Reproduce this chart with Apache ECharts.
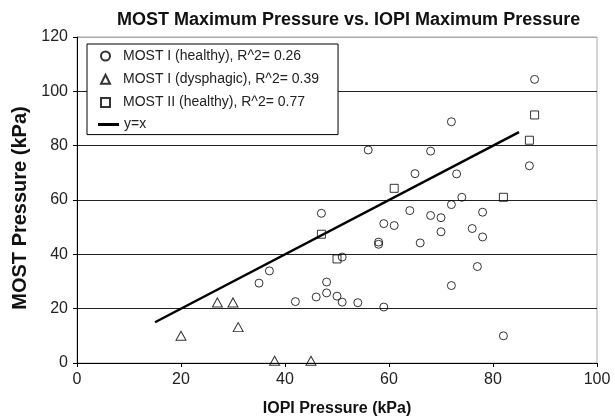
<!DOCTYPE html>
<html lang="en">

<head>
    <meta charset="UTF-8">
    <title>MOST vs IOPI</title>
    <script src="https://cdn.jsdelivr.net/npm/echarts@6/dist/echarts.min.js"></script>
    <style>
        body {
            margin: 0;
            padding: 0;
            background: #fff;
        }

        #main {
            width: 615px;
            height: 417px;
        }
    </style>
</head>

<body>
    <div id="main"></div>

    <script>
        // data, [IOPI kPa, MOST kPa]
        var healthyI = [
            [35, 29.4], [37, 33.9], [42, 22.6], [46, 24.3], [47, 55.1], [48, 29.8],
            [48, 25.8], [50, 24.6], [51, 39.0], [51, 22.4], [54, 22.2], [56, 78.4],
            [58, 44.5], [58, 43.7], [59, 51.3], [59, 20.6], [61, 50.6], [64, 56.1],
            [65, 69.7], [66, 44.2], [68, 78.0], [68, 54.3], [70, 53.5], [70, 48.3],
            [72, 88.8], [72, 58.3], [72, 28.5], [73, 69.6], [74, 61.0], [76, 49.5],
            [77, 35.5], [78, 55.5], [78, 46.4], [82, 10.0], [87, 72.6], [88, 104.4]
        ];
        var dysphagicI = [
            [20, 10.0], [27, 22.3], [30, 22.3], [31, 13.2], [38, 0.8], [45, 0.8]
        ];
        var healthyII = [
            [47, 47.4], [50, 38.3], [61, 64.3], [82, 61.0], [87, 82.0], [88, 91.3]
        ];
        var identityLine = [[15, 15], [85, 85]];

        var seriesNames = [
            'MOST I (healthy), R^2= 0.26',
            'MOST I (dysphagic), R^2= 0.39',
            'MOST II (healthy), R^2= 0.77',
            'y=x'
        ];

        var font = 'Liberation Sans, Arial, sans-serif';
        var hollow = {
            color: 'rgba(0,0,0,0)',
            borderColor: '#000',
            borderWidth: 1
        };
        var legendText = {
            fontFamily: font,
            fontSize: 14,
            color: '#222'
        };

        var myChart = echarts.init(document.getElementById('main'));

        var option = {
            animation: false,
            title: {
                text: 'MOST Maximum Pressure vs. IOPI Maximum Pressure',
                left: 117,
                top: 11,
                padding: 0,
                textStyle: {
                    fontFamily: font,
                    fontSize: 18,
                    fontWeight: 'bold',
                    color: '#111'
                }
            },
            grid: {
                left: 77,
                right: 18,
                top: 37,
                bottom: 54,
                outerBoundsMode: 'none',
                show: true,
                borderColor: '#aaa',
                borderWidth: 1
            },
            // two legends: the boxed one for the markers, a plain one for the line
            legend: [
                {
                    orient: 'vertical',
                    left: 87,
                    top: 44,
                    data: seriesNames.slice(0, 3),
                    backgroundColor: '#fff',
                    borderColor: '#000',
                    borderWidth: 1,
                    padding: [5, 19, 25, 13],
                    itemGap: 9.3,
                    itemWidth: 9,
                    itemHeight: 9,
                    textStyle: Object.assign({ padding: [0, 0, 0, 8] }, legendText)
                },
                {
                    orient: 'vertical',
                    left: 98,
                    top: 117.5,
                    padding: 0,
                    data: [{ name: seriesNames[3], icon: 'rect', itemStyle: { color: '#000' } }],
                    itemWidth: 21,
                    itemHeight: 3,
                    textStyle: legendText
                }
            ],
            xAxis: {
                type: 'value',
                min: 0,
                max: 100,
                interval: 20,
                name: 'IOPI Pressure (kPa)',
                nameLocation: 'middle',
                nameGap: 38,
                nameTextStyle: {
                    fontFamily: font,
                    fontSize: 16,
                    fontWeight: 'bold',
                    color: '#111'
                },
                axisLine: { lineStyle: { color: '#000', width: 1 } },
                axisTick: { show: true, length: 4, lineStyle: { color: '#000' } },
                axisLabel: {
                    margin: 9,
                    fontFamily: font,
                    fontSize: 16,
                    color: '#222'
                },
                splitLine: { show: false }
            },
            yAxis: {
                type: 'value',
                min: 0,
                max: 120,
                interval: 20,
                name: 'MOST Pressure (kPa)',
                nameLocation: 'middle',
                nameRotate: 90,
                nameGap: 35,
                nameTextStyle: {
                    fontFamily: font,
                    fontSize: 20,
                    fontWeight: 'bold',
                    color: '#111',
                    padding: [0, 16, 0, 0]
                },
                axisLine: { show: true, lineStyle: { color: '#000', width: 1 } },
                axisTick: { show: true, length: 4, lineStyle: { color: '#000' } },
                axisLabel: {
                    margin: 9,
                    fontFamily: font,
                    fontSize: 16,
                    color: '#222'
                },
                splitLine: {
                    show: true,
                    lineStyle: {
                        color: ['#000', '#222', '#222', '#222', '#222', '#222', '#aaa'],
                        width: 1
                    }
                }
            },
            series: [
                {
                    name: seriesNames[0],
                    type: 'scatter',
                    symbol: 'circle',
                    symbolSize: 8,
                    itemStyle: hollow,
                    data: healthyI
                },
                {
                    name: seriesNames[1],
                    type: 'scatter',
                    symbol: 'triangle',
                    symbolSize: [10, 9],
                    itemStyle: hollow,
                    data: dysphagicI
                },
                {
                    name: seriesNames[2],
                    type: 'scatter',
                    symbol: 'rect',
                    symbolSize: 8,
                    itemStyle: hollow,
                    data: healthyII
                },
                {
                    name: seriesNames[3],
                    type: 'line',
                    symbol: 'none',
                    z: 3,
                    lineStyle: { color: '#000', width: 2.5 },
                    itemStyle: { color: '#000' },
                    data: identityLine
                }
            ]
        };

        option && myChart.setOption(option);
    </script>
</body>

</html>
